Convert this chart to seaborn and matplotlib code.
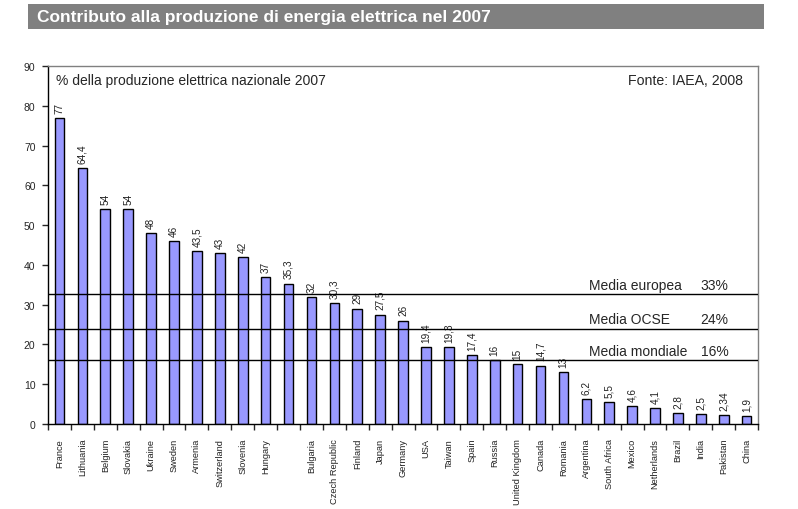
import matplotlib
matplotlib.use("Agg")
import matplotlib.pyplot as plt
import seaborn as sns
import pandas as pd
import numpy as np
from matplotlib.patches import Rectangle

countries = ["France", "Lithuania", "Belgium", "Slovakia", "Ukraine", "Sweden",
             "Armenia", "Switzerland", "Slovenia", "Hungary", " ", "Bulgaria",
             "Czech Republic", "Finland", "Japan", "Germany", "USA", "Taiwan",
             "Spain", "Russia", "United Kingdom", "Canada", "Romania", "Argentina",
             "South Africa", "Mexico", "Netherlands", "Brazil", "India",
             "Pakistan", "China"]
share = [77, 64.4, 54, 54, 48, 46, 43.5, 43, 42, 37, 35.3, 32, 30.3, 29, 27.5,
         26, 19.4, 19.3, 17.4, 16, 15, 14.7, 13, 6.2, 5.5, 4.6, 4.1, 2.8, 2.5,
         2.34, 1.9]
avg_names = ["Media europea", "Media OCSE", "Media mondiale"]
avg_lines = [32.7, 24.0, 16.1]
avg_labels = ["33%", "24%", "16%"]

df = pd.DataFrame({"country": countries, "share": share})

sns.set_style("white")
plt.rcParams["font.family"] = ["Liberation Sans", "DejaVu Sans"]

fig = plt.figure(figsize=(7.98, 5.10), dpi=100)
ax = fig.add_axes([0.0602, 0.1667, 0.8898, 0.7019])

sns.barplot(data=df, x="country", y="share", order=countries, color="#9999ff",
            saturation=1, width=0.42, edgecolor="black", linewidth=1, ax=ax)

for i, v in enumerate(share):
    ax.text(i, v + 1.3, f"{v:g}".replace(".", ","), rotation=90, ha="center",
            va="bottom", fontsize=7.2, color="#222222")

tr = ax.get_yaxis_transform()
for name, y, lab in zip(avg_names, avg_lines, avg_labels):
    ax.axhline(y, color="black", lw=1, zorder=3)
    ax.text(0.762, y + 0.6, name, transform=tr, fontsize=10, ha="left", va="bottom")
    ax.text(0.958, y + 0.6, lab, transform=tr, fontsize=10, ha="right", va="bottom")

ax.text(0.011, 0.962, "% della produzione elettrica nazionale 2007", transform=ax.transAxes,
        fontsize=10, ha="left", va="center")
ax.text(0.979, 0.962, "Fonte: IAEA, 2008", transform=ax.transAxes,
        fontsize=10.2, ha="right", va="center")

ax.set_xlim(-0.5, len(countries) - 0.5)
ax.set_ylim(0, 90)
ax.set_yticks(range(0, 91, 10))
ax.set_xlabel("")
ax.set_ylabel("")
ax.set_xticks(range(len(countries)))
ax.set_xticklabels(countries, rotation=90, fontsize=6.7, color="#222222")
ax.set_xticks(np.arange(-0.5, len(countries), 1), minor=True)
ax.tick_params(axis="x", which="major", length=0, pad=10)
ax.tick_params(axis="x", which="minor", length=4, width=1, direction="out", bottom=True)
ax.tick_params(axis="y", length=4, width=1, direction="out", left=True, labelsize=7.5, pad=5)

for s in ["left", "bottom"]:
    ax.spines[s].set_color("black")
    ax.spines[s].set_linewidth(1)
for s in ["top", "right"]:
    ax.spines[s].set_color("#808080")
    ax.spines[s].set_linewidth(1)

fig.patches.append(Rectangle((0.035, 0.941), 0.922, 0.049, transform=fig.transFigure,
                             facecolor="#808080", edgecolor="none"))
fig.text(0.046, 0.965, "Contributo alla produzione di energia elettrica nel 2007",
         color="white", fontsize=12.5, fontweight="bold", ha="left", va="center")

fig.savefig("out.png", dpi=100)
